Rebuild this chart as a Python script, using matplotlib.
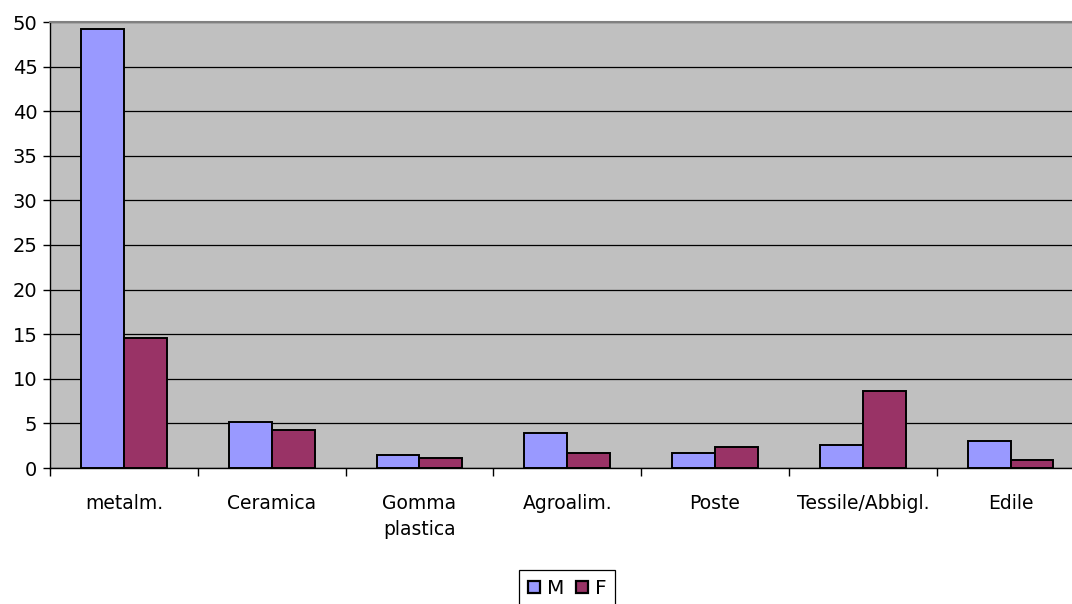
import matplotlib
matplotlib.use("Agg")
import matplotlib.pyplot as plt
import matplotlib.patches as patches
import numpy as np

# -- Data --
categories = ["metalm.", "Ceramica", "Gomma\nplastica", "Agroalim.", "Poste",
              "Tessile/Abbigl.", "Edile"]
m_values = [49.2, 5.2, 1.5, 3.9, 1.7, 2.6, 3.0]
f_values = [14.6, 4.3, 1.1, 1.7, 2.4, 8.6, 0.9]
yticks = [0, 5, 10, 15, 20, 25, 30, 35, 40, 45, 50]

M_COLOR = "#9999FF"
F_COLOR = "#993366"

plt.rcParams["font.family"] = "DejaVu Sans"

fig = plt.figure(figsize=(10.72, 6.04), dpi=100)
W, H = 1072, 604
# plot area runs a bit past the right edge of the picture
ax = fig.add_axes([50 / W, (H - 468) / H, (1084.5 - 50) / W, (468 - 22) / H])
ax.set_facecolor("#C0C0C0")

x = np.arange(len(categories))
bw = 0.29
ax.bar(x - bw / 2, m_values, width=bw, color=M_COLOR, edgecolor="black",
       linewidth=1.4, zorder=3)
ax.bar(x + bw / 2, f_values, width=bw, color=F_COLOR, edgecolor="black",
       linewidth=1.4, zorder=3)

ax.set_xlim(-0.5, len(categories) - 0.5)
ax.set_ylim(0, 50)
ax.set_yticks(yticks)
ax.yaxis.grid(True, color="black", linewidth=0.9, zorder=1)
ax.set_axisbelow(True)

# category labels between boundary ticks
ax.set_xticks(np.arange(len(categories) + 1) - 0.5)
ax.set_xticklabels([])
ax.set_xticks(x, minor=True)
ax.set_xticklabels(categories, minor=True, fontsize=13.5, linespacing=1.45)
ax.tick_params(axis="x", which="minor", length=0, pad=19)
ax.tick_params(axis="x", which="major", length=6, width=1, direction="out")
ax.tick_params(axis="y", length=5, width=1, direction="out", labelsize=14, pad=4)

for side in ["left", "bottom"]:
    ax.spines[side].set_color("black")
    ax.spines[side].set_linewidth(1)
for side in ["top", "right"]:
    ax.spines[side].set_color("#808080")
    ax.spines[side].set_linewidth(1.5)

# legend
handles = [patches.Patch(facecolor=M_COLOR, edgecolor="black", linewidth=1.6, label="M"),
           patches.Patch(facecolor=F_COLOR, edgecolor="black", linewidth=1.6, label="F")]
leg = fig.legend(handles=handles, loc="upper left", bbox_to_anchor=(519 / W, 1 - 570 / H),
                 ncol=2, fontsize=14.5, frameon=True, fancybox=False, framealpha=1,
                 edgecolor="black", handlelength=0.6, handleheight=0.6,
                 handletextpad=0.35, columnspacing=0.55, borderpad=0.45,
                 borderaxespad=0)
leg.get_frame().set_linewidth(0.9)

fig.savefig("out.png", dpi=100)
